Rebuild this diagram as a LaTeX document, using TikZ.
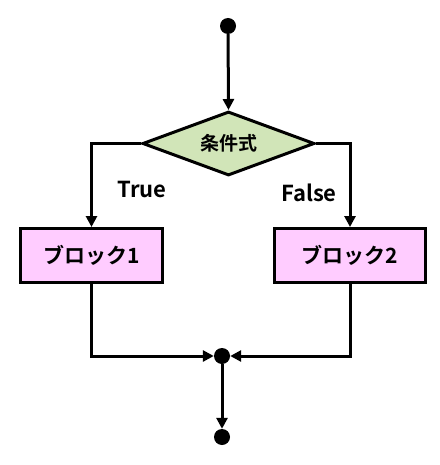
\documentclass[tikz,border=0pt]{standalone}
\usepackage{fontspec}
\setmainfont{Noto Sans CJK JP}[BoldFont={* Bold}]
\usepackage{tikz}
\usetikzlibrary{
	shapes.geometric,
	arrows.meta,
	calc}

\definecolor{condgreen}{RGB}{209,229,184}
\definecolor{blockpink}{RGB}{255,204,255}

\tikzset{
	flow/.style={line width=3pt, -{Triangle[length=11pt,width=11pt]}},
	dot/.style={circle, fill=black, inner sep=0pt, minimum size=16pt},
	cond/.style={diamond, draw, line width=3pt, fill=condgreen, inner sep=0pt,
		shape aspect=2.7, minimum width=172pt, minimum height=64pt,
		font=\fontsize{19}{19}\selectfont\bfseries},
	block/.style={rectangle, draw, line width=3pt, fill=blockpink,
		minimum height=54pt, font=\fontsize{21}{21}\selectfont\bfseries},
	lbl/.style={font=\fontsize{22}{22}\selectfont\bfseries}
}

\begin{document}
\begin{tikzpicture}[x=1pt, y=-1pt]
      \useasboundingbox (0,0) rectangle (439,465);

      \node[dot] (Start) at (228,26) {};

      \node[cond] (Cond) at (228.5,143.5) {条件式};

      \node[block, minimum width=142pt] (B1) at (91.5,255.5) {ブロック1};
      \node[block, minimum width=151pt] (B2) at (350,255.5) {ブロック2};

      \node[lbl] (T) at (142,190) {True};
      \node[lbl] (F) at (309,193) {False};

      \node[dot] (Merge) at (222,356) {};
      \node[dot] (End) at (222,437) {};

      \draw [flow] (Start)      to (Cond.north);
      \draw [flow] (Cond.west)  -| (B1.north);
      \draw [flow] (Cond.east)  -| (B2.north);
      \draw [flow] (B1.south)   |- (Merge);
      \draw [flow] (B2.south)   |- (Merge);
      \draw [flow] (Merge)      to (End);
\end{tikzpicture}
\end{document}
